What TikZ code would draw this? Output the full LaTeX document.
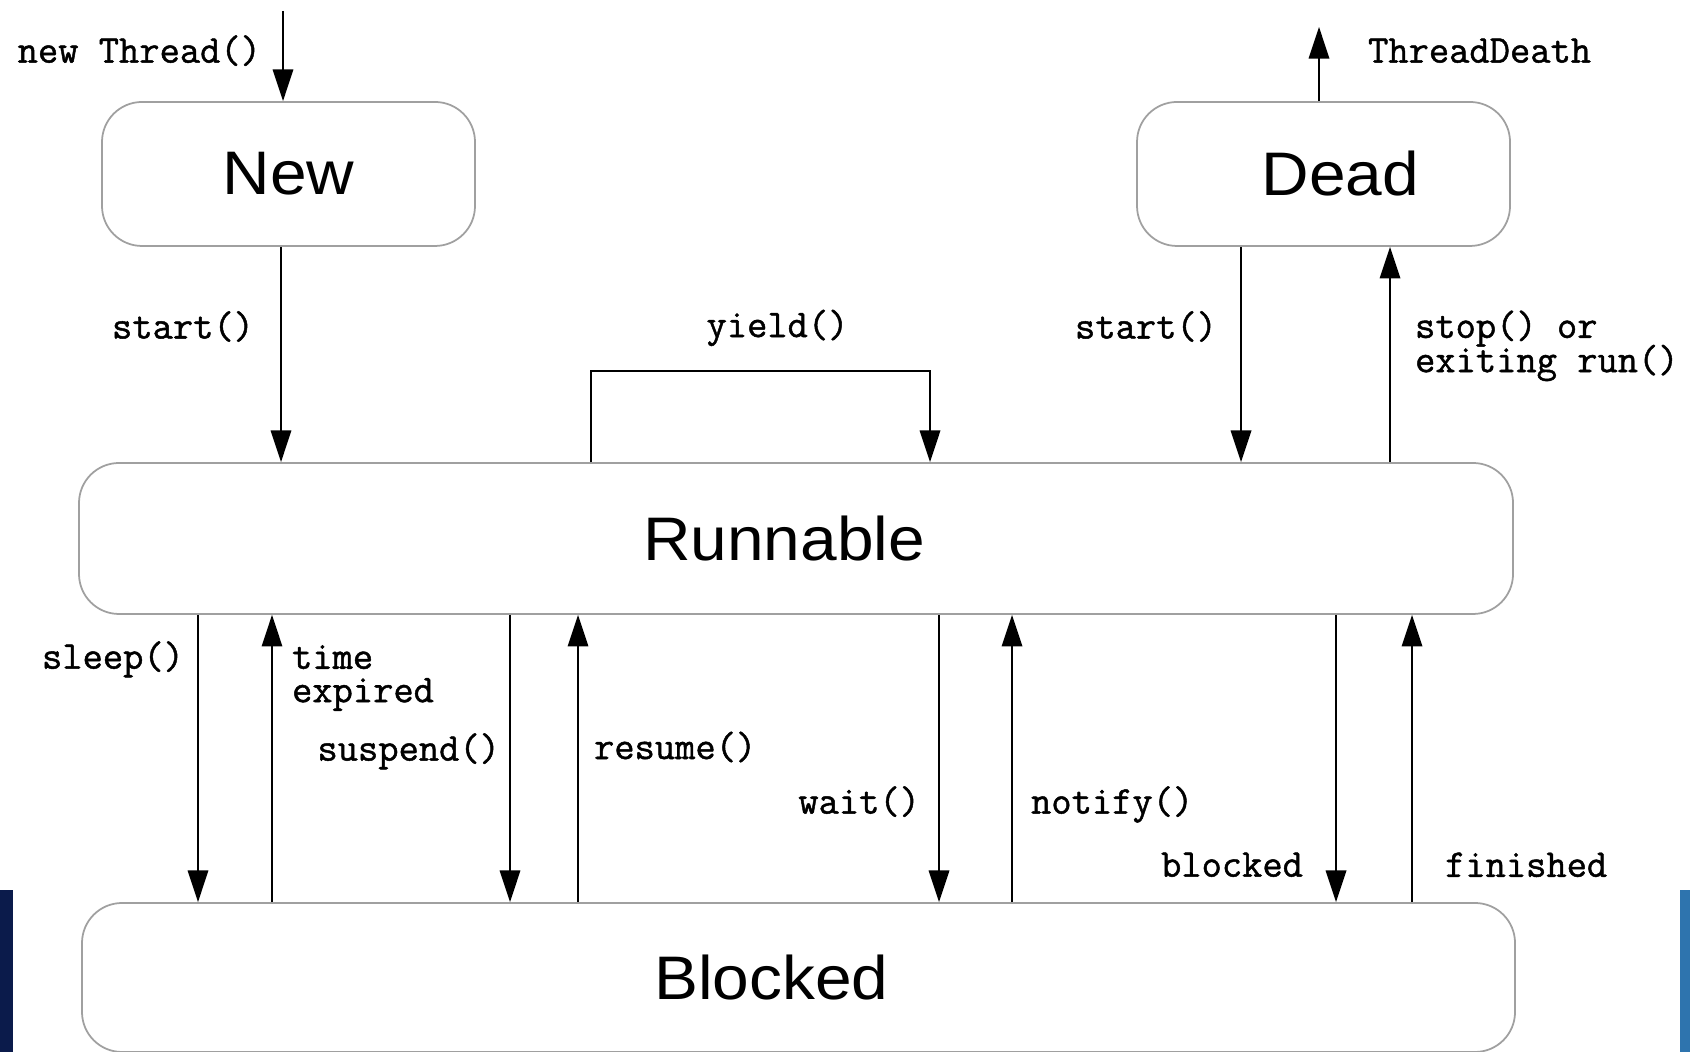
\documentclass[tikz,border=0pt]{standalone}
\usepackage{fontspec}
\setmainfont{Liberation Sans}
\newfontfamily\etatfont[FakeStretch=1.07]{Liberation Sans}
\newfontfamily\codefont[FakeBold=1.2]{Latin Modern Mono}
\usepackage{tikz}
\usetikzlibrary{arrows.meta,positioning,calc}
\definecolor{thgris}{HTML}{A0A0A0}
\definecolor{thnavy}{HTML}{0B1B4B}
\definecolor{thbleu}{HTML}{2E74AE}

\begin{document}
\begin{tikzpicture}[
  etat/.style={draw=thgris, line width=0.5pt, rounded corners=0.4cm,
    minimum width=3.73cm, minimum height=1.44cm, font=\etatfont\fontsize{17.5}{20}\selectfont},
  trans/.style={-{Triangle[length=9pt,width=5.8pt]}, line width=0.6pt},
  code/.style={font=\codefont\fontsize{11.2}{9.5}\selectfont, align=left, inner sep=0pt}]
  \useasboundingbox (0,0) rectangle (16.90,10.52);
  % bandes au bord
  \fill[thnavy] (0,0) rectangle (0.13,1.62);
  \fill[thbleu] (16.80,0) rectangle (16.90,1.62);
  % etats
  \node[etat] (new) at (2.885,8.78) {New};
  \node[etat] (dead) at (13.235,8.78) {\hspace*{0.34cm}Dead};
  \node[etat, minimum width=14.34cm, minimum height=1.51cm] (runnable) at (7.96,5.135) {\hspace*{-0.24cm}Runnable};
  \node[etat, minimum width=14.33cm, minimum height=1.49cm] (blocked) at (7.985,0.745) {\hspace*{-0.54cm}Blocked};
  \coordinate (creation) at (2.83,10.41);
  \coordinate (fin) at (13.19,10.25);
  % new / dead
  \draw[trans] (creation) -- (new.north -| creation) node[code, pos=0.44, left=0.21cm] {new Thread()};
  \draw[trans] (dead.north -| fin) -- (fin) node[code, pos=0.68, right=0.48cm] {ThreadDeath};
  \draw[trans] (new.south -| 2.81,0) -- (runnable.north -| 2.81,0) node[code, pos=0.37, left=0.26cm] {start()};
  \draw[trans] (dead.south -| 12.41,0) -- (runnable.north -| 12.41,0) node[code, pos=0.37, left=0.23cm] {start()};
  \draw[trans] (runnable.north -| 13.90,0) -- (dead.south -| 13.90,0) node[code, pos=0.54, right=0.24cm] {stop() or\\[-1.5pt]exiting run()};
  % yield
  \draw[trans] (runnable.north -| 5.91,0) -- ++(0,0.91) -| (runnable.north -| 9.30,0)
    node[code, pos=0.25, above=0.24cm, xshift=0.17cm] {yield()};
  % runnable <-> blocked
  \draw[trans] (runnable.south -| 1.98,0) -- (blocked.north -| 1.98,0) node[code, pos=0.155, left=0.13cm] {sleep()};
  \draw[trans] (blocked.north -| 2.72,0) -- (runnable.south -| 2.72,0) node[code, pos=0.78, right=0.19cm] {time\\expired};
  \draw[trans] (runnable.south -| 5.10,0) -- (blocked.north -| 5.10,0) node[code, pos=0.475, left=0.09cm] {suspend()};
  \draw[trans] (blocked.north -| 5.78,0) -- (runnable.south -| 5.78,0) node[code, pos=0.54, right=0.15cm] {resume()};
  \draw[trans] (runnable.south -| 9.39,0) -- (blocked.north -| 9.39,0) node[code, pos=0.65, left=0.18cm] {wait()};
  \draw[trans] (blocked.north -| 10.12,0) -- (runnable.south -| 10.12,0) node[code, pos=0.34, right=0.18cm] {notify()};
  \draw[trans] (runnable.south -| 13.36,0) -- (blocked.north -| 13.36,0) node[code, pos=0.87, left=0.32cm] {blocked};
  \draw[trans] (blocked.north -| 14.12,0) -- (runnable.south -| 14.12,0) node[code, pos=0.13, right=0.32cm] {finished};
\end{tikzpicture}
\end{document}
